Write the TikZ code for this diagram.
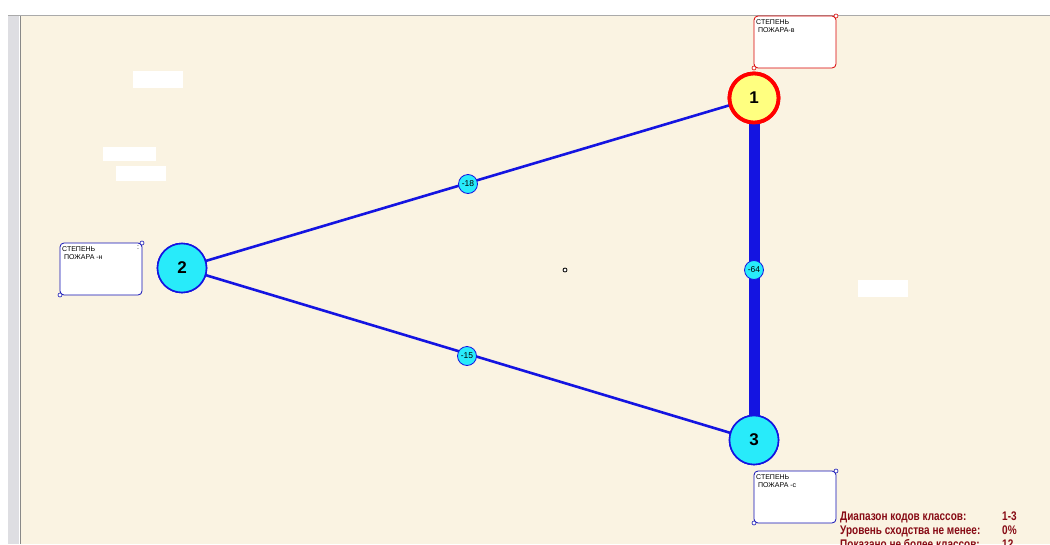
\documentclass[tikz,border=0pt]{standalone}
\usepackage{fontspec}
\setmainfont{Liberation Sans}
\newfontfamily\legendfont{Liberation Sans}
\usetikzlibrary{calc}
\definecolor{paper}{RGB}{250,243,226}
\definecolor{framegray}{RGB}{170,170,170}
\definecolor{sidegray}{RGB}{222,222,226}
\definecolor{linkblue}{RGB}{20,20,225}
\definecolor{nodecyan}{RGB}{40,235,250}
\definecolor{nodeyellow}{RGB}{255,255,128}
\definecolor{legendred}{RGB}{135,10,20}
\tikzset{
  x=1pt, y=-1pt,
  classnode/.style={circle, minimum size=49pt, inner sep=0pt, fill=nodecyan,
    draw=linkblue, line width=1.6pt, font=\fontsize{17}{17}\selectfont\bfseries},
  activenode/.style={classnode, fill=nodeyellow, draw=red, line width=3.8pt},
  weight/.style={circle, minimum size=19pt, inner sep=0pt, fill=nodecyan,
    draw=linkblue, line width=0.8pt, font=\fontsize{8.5}{8.5}\selectfont},
  link/.style={draw=linkblue, line width=2.6pt},
  heavylink/.style={draw=linkblue, line width=11pt},
  notebox/.style={draw, fill=white, rounded corners=4pt, line width=0.8pt},
  grip/.style={circle, draw, fill=white, inner sep=0pt, minimum size=4pt, line width=0.6pt},
  notetext/.style={anchor=north west, inner sep=0pt, align=left,
    font=\fontsize{7}{8}\selectfont},
  blank/.style={fill=white, draw=none},
  legend/.style={anchor=base west, inner sep=0pt, text=legendred,
    font=\legendfont\fontsize{12.5}{12.5}\selectfont\bfseries},
}
\begin{document}
\begin{tikzpicture}
\useasboundingbox (0,0) rectangle (1050,544);
\clip (0,0) rectangle (1050,544);
% window background and frame
\fill[white] (0,0) rectangle (1050,544);
\fill[paper] (20,16) rectangle (1050,544);
\fill[sidegray] (8,16) rectangle (19,544);
\draw[framegray, line width=1pt] (8,15.5) -- (1050,15.5);
\draw[framegray!80!black, line width=1pt] (20,16) -- (20,544);

% empty white label patches
\fill[blank] (133,71) rectangle (183,88);
\fill[blank] (103,147) rectangle (156,161);
\fill[blank] (116,166) rectangle (166,181);
\fill[blank] (858,280) rectangle (908,297);

% class nodes (placed first so the links can refer to them)
\node[activenode] (n1) at (754,98) {1};
\node[classnode] (n2) at (182,268) {2};
\node[classnode] (n3) at (754,440) {3};

% links between classes
\path[heavylink] (n1.center) -- (n3.center);
\path[link] (n2.center) -- (n1.center);
\path[link] (n2.center) -- (n3.center);
% redraw nodes over the links
\node[activenode] at (n1) {1};
\node[classnode] at (n2) {2};
\node[classnode] at (n3) {3};

% link weights
\node[weight] (w21) at (468,184) {-18};
\node[weight] (w23) at (467,356) {-15};
\node[weight] (w13) at (754,270) {-64};

% centre marker
\node[circle, draw=black, fill=white, inner sep=0pt, minimum size=4pt, line width=0.8pt] (ctr) at (565,270) {};

% notes attached to classes
\draw[notebox, draw=red!85!black] (754,16) rectangle (836,68);
\node[grip, draw=red!85!black] (g1a) at (754,68) {};
\node[grip, draw=red!85!black] (g1b) at (836,16) {};
\node[notetext] (t1) at (756,19) {СТЕПЕНЬ\\\ ПОЖАРА-в};

\draw[notebox, draw=linkblue!80!black] (60,243) rectangle (142,295);
\node[grip, draw=linkblue!80!black] (g2a) at (142,243) {};
\node[grip, draw=linkblue!80!black] (g2b) at (60,295) {};
\node[notetext] (t2) at (62,246) {СТЕПЕНЬ\\\ ПОЖАРА -н};
\node[notetext] (t2c) at (137,246) {:};

\draw[notebox, draw=linkblue!80!black] (754,471) rectangle (836,523);
\node[grip, draw=linkblue!80!black] (g3a) at (836,471) {};
\node[grip, draw=linkblue!80!black] (g3b) at (754,523) {};
\node[notetext] (t3) at (756,474) {СТЕПЕНЬ\\\ ПОЖАРА -с};

% legend
\node[legend] (l1) at (840,520) {\scalebox{0.8}[1]{Диапазон кодов классов:}};
\node[legend] (v1) at (1002,520) {\scalebox{0.8}[1]{1-3}};
\node[legend] (l2) at (840,534) {\scalebox{0.8}[1]{Уровень сходства не менее:}};
\node[legend] (v2) at (1002,534) {\scalebox{0.8}[1]{0\%}};
\node[legend] (l3) at (840,548) {\scalebox{0.8}[1]{Показано не более классов:}};
\node[legend] (v3) at (1002,548) {\scalebox{0.8}[1]{12}};
\end{tikzpicture}
\end{document}
